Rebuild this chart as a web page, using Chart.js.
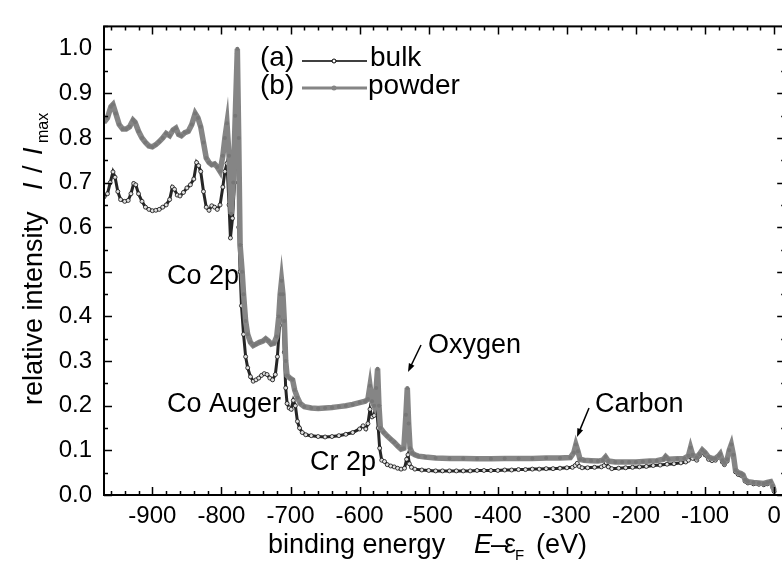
<!DOCTYPE html>
<html>
<head>
<meta charset="utf-8">
<script src="https://cdn.jsdelivr.net/npm/chart.js@4/dist/chart.umd.min.js"></script>
<style>
  html, body { margin: 0; padding: 0; background: #fff; overflow: hidden; }
  #wrap { width: 790px; height: 563px; }
</style>
</head>
<body>
<div id="wrap"><canvas id="xps" width="790" height="563"></canvas></div>
<script>
// binding energy (eV) and relative intensity
const powderE = [
  -970,-965,-960,-957,-953,-948,-943,-938,-933,-928,
  -925,-920,-915,-910,-905,-900,-895,-890,-885,-880,
  -875,-870,-866,-862,-858,-853,-848,-843,-838,-834,
  -830,-826,-822,-818,-814,-810,-806,-802,-798,-795,
  -792,-789,-786,-783,-780,-777,-775,-773,-770,-768,
  -765,-762,-758,-754,-750,-745,-740,-736,-732,-728,
  -724,-720,-717,-715,-713,-711,-709,-707,-705,-701,
  -697,-694,-690,-686,-680,-670,-660,-650,-640,-630,
  -620,-610,-600,-592,-588,-585,-582,-579,-576,-574,
  -572,-570,-565,-560,-555,-550,-545,-540,-536,-533,
  -531,-529,-527,-524,-520,-515,-505,-490,-470,-450,
  -430,-410,-390,-370,-350,-330,-310,-295,-290,-287,
  -284,-281,-275,-265,-255,-248,-244,-240,-230,-220,
  -210,-200,-190,-180,-170,-160,-157,-153,-140,-130,
  -124,-121,-118,-112,-108,-104,-100,-95,-90,-85,
  -80,-78,-75,-72,-68,-65,-62,-59,-56,-52,
  -48,-45,-42,-38,-30,-22,-15,-10,-5,-2,
  0
]
const powderI = [
  0.835,0.845,0.870,0.875,0.855,0.830,0.820,0.820,0.825,0.840,
  0.835,0.815,0.800,0.790,0.782,0.780,0.785,0.792,0.800,0.810,
  0.805,0.818,0.822,0.808,0.805,0.812,0.815,0.830,0.855,0.845,
  0.825,0.790,0.755,0.745,0.740,0.742,0.735,0.725,0.760,0.800,
  0.833,0.760,0.630,0.700,0.850,1.000,0.800,0.560,0.500,0.450,
  0.390,0.360,0.342,0.335,0.338,0.342,0.345,0.350,0.345,0.338,
  0.340,0.355,0.400,0.450,0.480,0.450,0.390,0.300,0.268,0.262,
  0.258,0.235,0.218,0.205,0.198,0.195,0.194,0.195,0.196,0.198,
  0.200,0.203,0.207,0.210,0.215,0.245,0.210,0.200,0.240,0.283,
  0.200,0.150,0.140,0.132,0.125,0.118,0.110,0.103,0.105,0.180,
  0.240,0.160,0.105,0.094,0.090,0.087,0.085,0.083,0.082,0.082,
  0.081,0.081,0.082,0.082,0.082,0.083,0.083,0.084,0.095,0.113,
  0.098,0.080,0.078,0.077,0.076,0.078,0.085,0.076,0.074,0.074,
  0.074,0.074,0.075,0.076,0.077,0.080,0.086,0.080,0.081,0.082,
  0.088,0.106,0.090,0.084,0.092,0.101,0.095,0.085,0.082,0.082,
  0.088,0.092,0.078,0.072,0.080,0.100,0.113,0.090,0.056,0.050,
  0.048,0.045,0.034,0.030,0.028,0.027,0.026,0.028,0.030,0.020,
  0.010
]
const bulkE = [
  -970,-965,-961,-957,-954,-950,-946,-940,-935,-931,
  -927,-924,-920,-915,-910,-905,-900,-895,-890,-885,
  -880,-875,-871,-868,-864,-860,-855,-850,-845,-840,
  -836,-833,-830,-826,-822,-818,-814,-810,-806,-802,
  -798,-795,-792,-789,-787,-784,-781,-778,-777,-775,
  -773,-771,-768,-765,-762,-758,-754,-750,-746,-742,
  -738,-734,-730,-726,-722,-719,-716,-713,-711,-709,
  -707,-705,-702,-699,-696,-693,-690,-687,-683,-678,
  -670,-660,-650,-640,-630,-620,-610,-600,-595,-591,
  -588,-585,-582,-579,-576,-573,-571,-568,-564,-560,
  -555,-550,-545,-540,-535,-532,-530,-528,-525,-520,
  -510,-500,-490,-480,-470,-460,-450,-440,-430,-420,
  -410,-400,-390,-380,-370,-360,-350,-340,-330,-320,
  -310,-300,-292,-288,-285,-282,-278,-270,-260,-250,
  -246,-243,-240,-235,-225,-215,-205,-195,-185,-175,
  -165,-155,-145,-135,-128,-124,-121,-118,-112,-108,
  -104,-100,-95,-90,-85,-80,-78,-75,-72,-68,
  -65,-62,-59,-56,-52,-48,-45,-42,-38,-30,
  -22,-15,-10,-5,-2,0
]
const bulkI = [
  0.668,0.675,0.700,0.724,0.712,0.680,0.662,0.658,0.660,0.675,
  0.698,0.695,0.675,0.658,0.645,0.640,0.637,0.638,0.640,0.645,
  0.650,0.662,0.690,0.685,0.672,0.670,0.678,0.688,0.695,0.708,
  0.745,0.738,0.725,0.680,0.645,0.638,0.648,0.645,0.640,0.650,
  0.690,0.725,0.743,0.650,0.576,0.620,0.700,0.900,0.990,0.600,
  0.500,0.424,0.360,0.310,0.285,0.265,0.255,0.258,0.262,0.268,
  0.272,0.270,0.262,0.258,0.270,0.310,0.380,0.460,0.400,0.320,
  0.240,0.205,0.195,0.192,0.212,0.200,0.165,0.150,0.140,0.135,
  0.133,0.131,0.130,0.131,0.133,0.136,0.140,0.148,0.155,0.148,
  0.160,0.192,0.175,0.178,0.207,0.150,0.105,0.078,0.075,0.068,
  0.065,0.063,0.060,0.058,0.060,0.080,0.090,0.070,0.062,0.058,
  0.056,0.055,0.054,0.054,0.054,0.054,0.054,0.054,0.055,0.055,
  0.055,0.055,0.056,0.056,0.057,0.057,0.058,0.058,0.059,0.059,
  0.060,0.061,0.062,0.066,0.071,0.064,0.061,0.061,0.062,0.063,
  0.066,0.072,0.063,0.059,0.060,0.061,0.062,0.063,0.064,0.066,
  0.067,0.069,0.070,0.072,0.074,0.078,0.095,0.082,0.078,0.088,
  0.096,0.090,0.080,0.077,0.078,0.085,0.088,0.074,0.068,0.076,
  0.095,0.108,0.085,0.052,0.046,0.044,0.042,0.031,0.027,0.025,
  0.024,0.023,0.025,0.027,0.017,0.008
]

const xTicks = [-900, -800, -700, -600, -500, -400, -300, -200, -100, 0]
const yTicks = [0, 0.1, 0.2, 0.3, 0.4, 0.5, 0.6, 0.7, 0.8, 0.9, 1.0]

const FONT = '"Liberation Sans", Arial, sans-serif'
const GRAY = '#858585'

function _pts(xs, ys) { return xs.map((x, i) => ({ x, y: ys[i] })) }

function _text(ctx, str, x, y, size, italic) {
  ctx.font = (italic ? 'italic ' : '') + size + 'px ' + FONT
  ctx.fillText(str, x, y)
}

function _textUp(ctx, str, x, y, size, italic) {
  ctx.save()
  ctx.translate(x, y)
  ctx.rotate(-Math.PI / 2)
  _text(ctx, str, 0, 0, size, italic)
  ctx.restore()
}

function _arrow(ctx, x1, y1, x2, y2) {
  const ang = Math.atan2(y2 - y1, x2 - x1)
  ctx.beginPath()
  ctx.moveTo(x1, y1)
  ctx.lineTo(x2 - 5 * Math.cos(ang), y2 - 5 * Math.sin(ang))
  ctx.lineWidth = 1.5
  ctx.stroke()
  ctx.beginPath()
  ctx.moveTo(x2, y2)
  ctx.lineTo(x2 - 9 * Math.cos(ang - 0.35), y2 - 9 * Math.sin(ang - 0.35))
  ctx.lineTo(x2 - 9 * Math.cos(ang + 0.35), y2 - 9 * Math.sin(ang + 0.35))
  ctx.closePath()
  ctx.fill()
}

const framePlugin = {
  id: 'frame',
  afterDraw(chart) {
    const { ctx, chartArea: a, scales: { x, y } } = chart
    ctx.save()
    ctx.strokeStyle = '#000'
    ctx.fillStyle = '#000'

    // inward ticks on all four sides
    ctx.lineWidth = 1.5
    ctx.beginPath()
    for (let v = -960; v <= 0; v += 20) {
      const px = Math.round(x.getPixelForValue(v)) + 0.5
      const len = v % 100 === 0 ? 8 : 4
      ctx.moveTo(px, a.bottom); ctx.lineTo(px, a.bottom - len)
      ctx.moveTo(px, a.top); ctx.lineTo(px, a.top + len)
    }
    for (let i = 0; i <= 21; i++) {
      const py = Math.round(y.getPixelForValue(i * 0.05)) + 0.5
      const len = i % 2 === 0 ? 8 : 4
      ctx.moveTo(a.left, py); ctx.lineTo(a.left + len, py)
      ctx.moveTo(a.right, py); ctx.lineTo(a.right - len, py)
    }
    ctx.stroke()
    ctx.lineWidth = 2
    ctx.strokeRect(a.left, a.top, a.right - a.left, a.bottom - a.top)

    // axis titles
    ctx.textBaseline = 'alphabetic'
    ctx.textAlign = 'left'
    _textUp(ctx, 'relative intensity', 42, 405, 27)
    _textUp(ctx, 'I', 42, 190, 27, true)
    _textUp(ctx, '/', 42, 173, 27)
    _textUp(ctx, 'I', 42, 155, 27, true)
    _textUp(ctx, 'max', 48, 143, 16)

    _text(ctx, 'binding energy', 268, 553, 27)
    _text(ctx, 'E', 474, 553, 27, true)
    _text(ctx, '\u2013', 491, 553, 27)
    _text(ctx, '\u03b5', 504, 553, 27)
    _text(ctx, 'F', 515, 560, 15)
    _text(ctx, '(eV)', 536, 553, 27)

    // legend
    _text(ctx, '(a)', 260, 66, 28)
    _text(ctx, 'bulk', 370, 66, 28)
    _text(ctx, '(b)', 260, 94, 28)
    _text(ctx, 'powder', 368, 94, 28)
    ctx.lineWidth = 1.5
    ctx.beginPath(); ctx.moveTo(302, 61); ctx.lineTo(367, 61); ctx.stroke()
    ctx.beginPath(); ctx.arc(334, 61, 2, 0, Math.PI * 2)
    ctx.fillStyle = '#fff'; ctx.fill(); ctx.lineWidth = 1; ctx.stroke()
    ctx.strokeStyle = GRAY
    ctx.fillStyle = GRAY
    ctx.lineWidth = 3
    ctx.beginPath(); ctx.moveTo(302, 88); ctx.lineTo(367, 88); ctx.stroke()
    ctx.beginPath(); ctx.arc(334, 88, 2.5, 0, Math.PI * 2); ctx.fill()

    // peak labels
    ctx.fillStyle = '#000'
    ctx.strokeStyle = '#000'
    _text(ctx, 'Co 2p', 167, 284, 27)
    _text(ctx, 'Co Auger', 167, 412, 27)
    _text(ctx, 'Cr 2p', 310, 470, 27)
    _text(ctx, 'Oxygen', 428, 353, 27)
    _text(ctx, 'Carbon', 595, 412, 27)
    _arrow(ctx, 421, 345, 408, 372)
    _arrow(ctx, 589, 408, 577, 437)
    ctx.restore()
  }
}

new Chart(document.getElementById('xps'), {
  type: 'line',
  data: {
    datasets: [
      {
        label: 'powder',
        data: _pts(powderE, powderI),
        borderColor: GRAY,
        borderWidth: 5.5,
        pointRadius: 2,
        pointBackgroundColor: '#777',
        pointBorderWidth: 0,
        tension: 0
      },
      {
        label: 'bulk',
        data: _pts(bulkE, bulkI),
        borderColor: '#262626',
        borderWidth: 3,
        pointRadius: 2,
        pointBackgroundColor: '#e0e0e0',
        pointBorderColor: '#111',
        pointBorderWidth: 0.8,
        tension: 0
      }
    ]
  },
  options: {
    responsive: false,
    animation: false,
    devicePixelRatio: 1,
    layout: { padding: { left: 0, top: 12, right: 4, bottom: 0 } },
    plugins: { legend: { display: false }, tooltip: { enabled: false } },
    scales: {
      x: {
        type: 'linear',
        min: -970,
        max: 16,
        grid: { display: false, drawTicks: false },
        border: { display: false },
        afterBuildTicks: s => { s.ticks = xTicks.map(v => ({ value: v })) },
        afterFit: s => { s.height = 68 },
        ticks: {
          color: '#000',
          padding: 7,
          maxRotation: 0,
          font: { family: FONT, size: 24 },
          callback: v => String(v)
        }
      },
      y: {
        type: 'linear',
        min: 0,
        max: 1.05,
        grid: { display: false, drawTicks: false },
        border: { display: false },
        afterBuildTicks: s => { s.ticks = yTicks.map(v => ({ value: v })) },
        afterFit: s => { s.width = 104 },
        ticks: {
          color: '#000',
          padding: 12,
          font: { family: FONT, size: 24 },
          callback: v => v.toFixed(1)
        }
      }
    }
  },
  plugins: [framePlugin]
})
</script>
</body>
</html>
